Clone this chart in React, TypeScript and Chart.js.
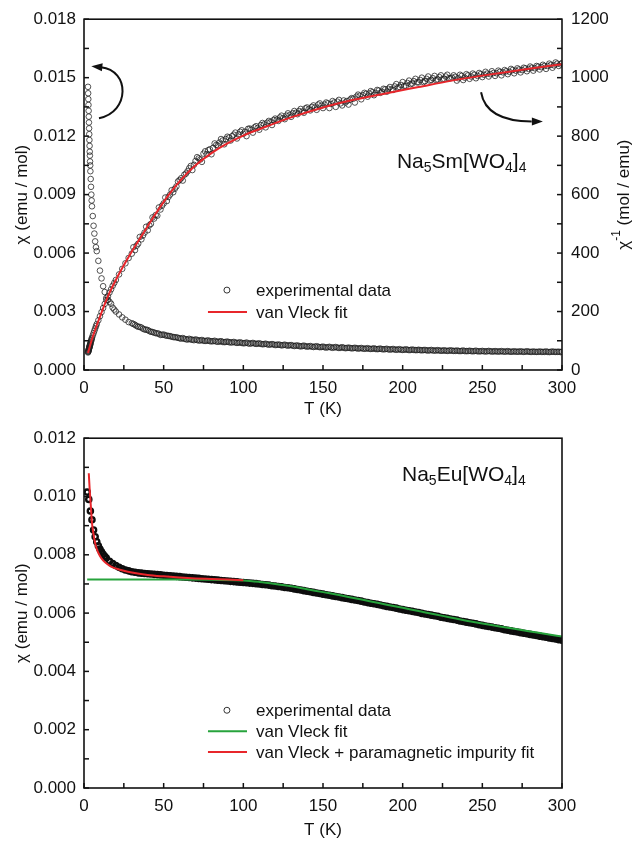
import React, { useEffect, useRef } from 'react';
import { Chart, registerables } from 'chart.js';

Chart.register(...registerables);

const FONT = '"Liberation Sans", Arial, Helvetica, sans-serif';
const INK = '#111111';

// ---------------- Top panel: Na5Sm[WO4]4 ----------------
const smT = [
  2.5, 2.6, 2.7, 2.8, 2.9, 3, 3.1, 3.2, 3.3, 3.4, 3.5, 3.6, 3.7, 3.8, 3.9, 4, 4.2, 4.4, 4.6, 4.8, 5, 5.5, 6, 6.5, 7, 7.5, 8,
  9, 10, 11, 12, 13, 14, 15, 16, 17, 18, 19, 20, 22, 24, 26, 28,
  30, 32, 34, 36, 38, 40, 42, 44, 46, 48, 50, 52, 54, 56, 58, 60, 62, 64, 66, 68, 70, 72, 74, 76, 78, 80, 82, 84, 86, 88,
  90, 92, 94, 96, 98, 100, 102, 104, 106, 108, 110, 112, 114, 116, 118, 120, 122, 124, 126, 128, 130, 132, 134, 136, 138,
  140, 142, 144, 146, 148, 150, 152, 154, 156, 158, 160, 162, 164, 166, 168, 170, 172, 174, 176, 178, 180, 182, 184, 186,
  188, 190, 192, 194, 196, 198, 200, 202, 204, 206, 208, 210, 212, 214, 216, 218, 220, 222, 224, 226, 228, 230, 232, 234,
  236, 238, 240, 242, 244, 246, 248, 250, 252, 254, 256, 258, 260, 262, 264, 266, 268, 270, 272, 274, 276, 278, 280, 282,
  284, 286, 288, 290, 292, 294, 296, 298, 300,
];
const smChi = [
  0.01453, 0.0142, 0.0139, 0.0136, 0.0133, 0.013, 0.0127, 0.0124, 0.0121, 0.0118, 0.0115, 0.0112, 0.011, 0.0107, 0.0105, 0.0102,
  0.0098, 0.0094, 0.009, 0.0087, 0.0084, 0.0079, 0.0074, 0.007, 0.0066, 0.0063, 0.0061,
  0.0056, 0.0051, 0.0047, 0.0043, 0.004, 0.0037, 0.0036, 0.0035, 0.0034, 0.0032, 0.0031, 0.003,
  0.00285, 0.0027, 0.00258, 0.00246,
  0.0024, 0.00232, 0.00222, 0.00218, 0.00208, 0.00205, 0.00196, 0.00192, 0.00188, 0.0018,
  0.00182, 0.00176, 0.00174, 0.00169, 0.00168, 0.00163, 0.00164, 0.00158, 0.0016, 0.00155,
  0.00157, 0.00151, 0.00154, 0.00149, 0.00152, 0.00147, 0.0015, 0.00145, 0.00148, 0.00143,
  0.00146, 0.00141, 0.00144, 0.00139, 0.00142, 0.00137, 0.00141, 0.00135, 0.00139, 0.00134,
  0.00137, 0.00132, 0.00135, 0.0013, 0.00133, 0.00128, 0.00131, 0.00126, 0.0013, 0.00125,
  0.00128, 0.00123, 0.00126, 0.00121, 0.00125, 0.0012, 0.00123, 0.00118, 0.00122, 0.00117,
  0.0012, 0.00115, 0.00119, 0.00114, 0.00118, 0.00113, 0.00117, 0.00112, 0.00115, 0.00111,
  0.00114, 0.0011, 0.00113, 0.00109, 0.00112, 0.00108, 0.00111, 0.00107, 0.0011, 0.00106,
  0.00109, 0.00105, 0.00108, 0.00104, 0.00107, 0.00103, 0.00106, 0.00102, 0.00105, 0.00102,
  0.00104, 0.00101, 0.00103, 0.001, 0.00103, 0.001, 0.00102, 0.00099, 0.00101, 0.00098,
  0.00101, 0.00098, 0.001, 0.00097, 0.001, 0.00097, 0.00099, 0.00096, 0.00099, 0.00096,
  0.00098, 0.00095, 0.00098, 0.00095, 0.00097, 0.00095, 0.00097, 0.00094, 0.00097, 0.00094,
  0.00096, 0.00094, 0.00096, 0.00093, 0.00096, 0.00093, 0.00095, 0.00093, 0.00095, 0.00093,
  0.00095, 0.00092, 0.00095, 0.00093, 0.00094, 0.00093,
];
const smChiInv = [
  60, 62, 64, 66, 68, 70, 72, 74, 76, 78, 80, 82, 84, 86, 88, 90,
  94, 98, 102, 106, 110, 118, 126, 134, 142, 150, 157,
  170, 184, 198, 212, 226, 240, 252, 265, 276, 288, 298, 308,
  327, 346, 365, 383,
  398, 410, 432, 447, 470, 478, 500, 518, 528, 549,
  570, 578, 600, 608, 628, 650, 648, 672, 690, 684,
  715, 724, 712, 748, 752, 738, 775, 768, 790, 772,
  798, 785, 805, 792, 815, 808, 800, 826, 812, 834,
  822, 845, 830, 852, 838, 860, 852, 870, 858, 878,
  866, 886, 875, 893, 880, 898, 888, 905, 890, 912,
  896, 915, 896, 920, 900, 924, 905, 915, 908, 930,
  915, 942, 926, 948, 935, 954, 940, 958, 948, 962,
  952, 968, 958, 978, 968, 985, 972, 990, 980, 996,
  984, 1000, 988, 1004, 992, 1006, 994, 1008, 996, 1010,
  998, 1008, 990, 1010, 992, 1012, 996, 1014, 998, 1016,
  1002, 1020, 1004, 1022, 1006, 1024, 1008, 1026, 1012, 1030,
  1015, 1032, 1018, 1034, 1022, 1038, 1024, 1040, 1028, 1044,
  1030, 1048, 1034, 1052, 1040, 1050,
];
// second sweep of readings at odd temperatures
const smT2 = [
  31, 33, 35, 37, 39, 41, 43, 45, 47, 49, 51, 53, 55, 57, 59, 61, 63, 65, 67, 69, 71, 73, 75, 77, 79, 81, 83, 85, 87, 89,
  91, 93, 95, 97, 99, 101, 103, 105, 107, 109, 111, 113, 115, 117, 119, 121, 123, 125, 127, 129, 131, 133, 135, 137, 139,
  141, 143, 145, 147, 149, 151, 153, 155, 157, 159, 161, 163, 165, 167, 169, 171, 173, 175, 177, 179, 181, 183, 185, 187,
  189, 191, 193, 195, 197, 199, 201, 203, 205, 207, 209, 211, 213, 215, 217, 219, 221, 223, 225, 227, 229, 231, 233, 235,
  237, 239, 241, 243, 245, 247, 249, 251, 253, 255, 257, 259, 261, 263, 265, 267, 269, 271, 273, 275, 277, 279, 281, 283,
  285, 287, 289, 291, 293, 295, 297, 299,
];
const smChi2 = [
  0.00236, 0.00226, 0.00221, 0.00212, 0.00207, 0.002, 0.00195, 0.00189, 0.00186, 0.00181,
  0.00178, 0.00175, 0.00171, 0.00168, 0.00165, 0.00161, 0.0016, 0.00156, 0.00157, 0.00153,
  0.00154, 0.00152, 0.0015, 0.0015, 0.00148, 0.00148, 0.00146, 0.00146, 0.00144, 0.00144,
  0.00143, 0.00142, 0.00141, 0.0014, 0.00139, 0.00138, 0.00137, 0.00137, 0.00136, 0.00135,
  0.00134, 0.00133, 0.00132, 0.00131, 0.00131, 0.00129, 0.00129, 0.00128, 0.00127, 0.00127,
  0.00125, 0.00125, 0.00123, 0.00123, 0.00122, 0.00121, 0.0012, 0.0012, 0.00119, 0.00118,
  0.00117, 0.00117, 0.00116, 0.00116, 0.00115, 0.00114, 0.00114, 0.00113, 0.00113, 0.00112,
  0.00112, 0.00111, 0.0011, 0.0011, 0.00109, 0.00109, 0.00108, 0.00108, 0.00107, 0.00107,
  0.00106, 0.00106, 0.00105, 0.00105, 0.00104, 0.00104, 0.00104, 0.00103, 0.00103, 0.00102,
  0.00102, 0.00102, 0.00101, 0.00101, 0.001, 0.001, 0.001, 0.00099, 0.00099, 0.00099,
  0.00099, 0.00098, 0.00098, 0.00098, 0.00097, 0.00097, 0.00097, 0.00097, 0.00096, 0.00096,
  0.00096, 0.00096, 0.00096, 0.00095, 0.00095, 0.00095, 0.00095, 0.00095, 0.00094, 0.00094,
  0.00094, 0.00094, 0.00094, 0.00094, 0.00094, 0.00093, 0.00093, 0.00093, 0.00093, 0.00093,
  0.00093, 0.00093, 0.00093, 0.00093, 0.00092,
];
const smChiInv2 = [
  420, 425, 455, 460, 490, 495, 522, 530, 556, 562,
  590, 592, 615, 620, 645, 656, 668, 680, 698, 702,
  728, 720, 740, 738, 755, 760, 770, 778, 785, 790,
  795, 800, 812, 806, 820, 815, 825, 822, 830, 828,
  838, 840, 846, 848, 855, 856, 864, 862, 870, 872,
  878, 880, 886, 884, 895, 892, 900, 898, 908, 904,
  908, 912, 910, 915, 918, 912, 922, 920, 925, 928,
  935, 938, 940, 945, 946, 950, 948, 956, 952, 960,
  962, 960, 970, 966, 975, 972, 982, 978, 988, 984,
  992, 985, 996, 990, 998, 992, 1002, 995, 1004, 998,
  1000, 1003, 998, 1006, 1000, 1008, 1004, 1010, 1006, 1012,
  1010, 1014, 1012, 1016, 1015, 1020, 1018, 1022, 1020, 1026,
  1024, 1028, 1026, 1032, 1030, 1034, 1032, 1038, 1036, 1040,
  1040, 1044, 1042, 1048, 1046,
];
const smFitT = [2.5, 5, 10, 15, 20, 25, 30, 40, 50, 60, 70, 80, 90, 100, 115, 130, 150, 170, 190, 210, 230, 250, 275, 300];
const smFitInv = [58, 105, 182, 252, 308, 358, 405, 492, 575, 645, 700, 742, 775, 802, 834, 864, 898, 925, 947, 968, 989, 1007, 1027, 1046];

// ---------------- Bottom panel: Na5Eu[WO4]4 ----------------
const euT = [
  2, 3, 4, 5, 6, 7, 8, 9, 10, 11, 12, 13, 14,
  16, 18, 20, 22, 24, 26, 28, 30, 32, 34, 36, 38, 40, 42, 44, 46, 48, 50, 52, 54, 56, 58, 60, 62, 64, 66, 68, 70, 72, 74,
  76, 78, 80, 82, 84, 86, 88, 90, 92, 94, 96, 98, 100, 102, 104, 106, 108, 110, 112, 114, 116, 118, 120, 122, 124, 126,
  128, 130, 132, 134, 136, 138, 140, 142, 144, 146, 148, 150, 152, 154, 156, 158, 160, 162, 164, 166, 168, 170, 172, 174,
  176, 178, 180, 182, 184, 186, 188, 190, 192, 194, 196, 198, 200, 202, 204, 206, 208, 210, 212, 214, 216, 218, 220, 222,
  224, 226, 228, 230, 232, 234, 236, 238, 240, 242, 244, 246, 248, 250, 252, 254, 256, 258, 260, 262, 264, 266, 268, 270,
  272, 274, 276, 278, 280, 282, 284, 286, 288, 290, 292, 294, 296, 298, 300,
];
const euChi = [
  0.01015, 0.0099, 0.0095, 0.0092, 0.00885, 0.00862, 0.00845, 0.00831, 0.0082, 0.0081, 0.00802, 0.00795, 0.00789,
  0.00778, 0.0077, 0.00763, 0.00757, 0.00752, 0.00748, 0.00745, 0.00742, 0.0074, 0.00738,
  0.00737, 0.00736, 0.00735, 0.00734, 0.00733, 0.00732, 0.00731, 0.0073, 0.00729, 0.00728,
  0.00727, 0.00726, 0.00725, 0.00724, 0.00723, 0.00722, 0.00721, 0.0072, 0.00719, 0.00718,
  0.00717, 0.00716, 0.00715, 0.00714, 0.00713, 0.00712, 0.00711, 0.0071, 0.00709, 0.00708,
  0.00707, 0.00706, 0.00705, 0.00704, 0.00703, 0.00702, 0.00701, 0.007, 0.00698, 0.00697,
  0.00696, 0.00694, 0.00693, 0.00691, 0.0069, 0.00688, 0.00687, 0.00685, 0.00683, 0.00681,
  0.00679, 0.00677, 0.00675, 0.00673, 0.00671, 0.00669, 0.00667, 0.00665, 0.00663, 0.00661,
  0.00659, 0.00657, 0.00655, 0.00653, 0.00651, 0.00649, 0.00647, 0.00645, 0.00643, 0.00641,
  0.00638, 0.00636, 0.00634, 0.00632, 0.0063, 0.00628, 0.00625, 0.00623, 0.00621, 0.00619,
  0.00617, 0.00614, 0.00612, 0.0061, 0.00608, 0.00606, 0.00604, 0.00602, 0.00599, 0.00597,
  0.00595, 0.00593, 0.00591, 0.00589, 0.00586, 0.00584, 0.00582, 0.0058, 0.00578, 0.00576,
  0.00573, 0.00571, 0.00569, 0.00567, 0.00565, 0.00563, 0.0056, 0.00558, 0.00556, 0.00554,
  0.00552, 0.0055, 0.00548, 0.00546, 0.00543, 0.00541, 0.00539, 0.00537, 0.00535, 0.00533,
  0.00531, 0.00529, 0.00527, 0.00525, 0.00523, 0.00521, 0.00519, 0.00517, 0.00515, 0.00513,
  0.00511, 0.00509, 0.00507,
];
const euVVT = [2, 20, 40, 60, 80, 100, 110, 120, 130, 140, 150, 160, 170, 180, 190, 200, 210, 220, 230, 240, 250, 260, 270, 280, 290, 300];
const euVV = [
  0.00715, 0.00715, 0.00715, 0.00715, 0.00714, 0.00712, 0.00707, 0.007, 0.00692, 0.00682, 0.00672, 0.00662, 0.00651,
  0.0064, 0.00629, 0.00618, 0.00607, 0.00596, 0.00585, 0.00574, 0.00564, 0.00555, 0.00546, 0.00537, 0.00528, 0.0052,
];
const euImpT = [3, 3.5, 4, 4.5, 5, 6, 7, 8, 10, 12, 14, 16, 18, 20, 25, 30, 40, 50, 60, 70, 80, 90, 100];
const euImp = [
  0.0108, 0.0103, 0.0099, 0.0095, 0.0091, 0.0087, 0.0084, 0.0082, 0.00796, 0.00781, 0.00771, 0.00763, 0.00757, 0.00753,
  0.00745, 0.00739, 0.00731, 0.00726, 0.00722, 0.00719, 0.00717, 0.00715, 0.00713,
];

const RED = '#e8262b';
const GREEN = '#27a33c';

const pts = (xs: number[], ys: number[]) => xs.map((x, i) => ({ x, y: ys[i] }));

function font(size: number) {
  return `${size}px ${FONT}`;
}

function drawTicks(chart: any, id: string, side: 'bottom' | 'left' | 'right', len = 5) {
  const s = chart.scales[id];
  const a = chart.chartArea;
  const ctx = chart.ctx;
  ctx.save();
  ctx.strokeStyle = INK;
  ctx.lineWidth = 1.5;
  s.ticks.forEach((t: any) => {
    const p = s.getPixelForValue(t.value);
    ctx.beginPath();
    if (side === 'bottom') {
      ctx.moveTo(p, a.bottom);
      ctx.lineTo(p, a.bottom - len);
    } else if (side === 'left') {
      ctx.moveTo(a.left, p);
      ctx.lineTo(a.left + len, p);
    } else {
      ctx.moveTo(a.right, p);
      ctx.lineTo(a.right - len, p);
    }
    ctx.stroke();
  });
  ctx.restore();
}

function drawFrame(chart: any) {
  const a = chart.chartArea;
  const ctx = chart.ctx;
  ctx.save();
  ctx.strokeStyle = INK;
  ctx.lineWidth = 1.6;
  ctx.strokeRect(a.left, a.top, a.right - a.left, a.bottom - a.top);
  ctx.restore();
}

function drawFormula(ctx: any, x: number, y: number, metal: string) {
  const parts: [string, boolean][] = [
    ['Na', false], ['5', true], [metal + '[WO', false], ['4', true], [']', false], ['4', true],
  ];
  let cx = x;
  ctx.save();
  ctx.fillStyle = INK;
  ctx.textBaseline = 'alphabetic';
  ctx.textAlign = 'left';
  for (const [txt, sub] of parts) {
    ctx.font = font(sub ? 14 : 21);
    ctx.fillText(txt, cx, sub ? y + 4 : y);
    cx += ctx.measureText(txt).width;
  }
  ctx.restore();
}

function drawLegend(chart: any, yId: string, items: { kind: 'circle' | 'line'; color: string; label: string; y: number }[]) {
  const ctx = chart.ctx;
  const xs = chart.scales.x;
  const ys = chart.scales[yId];
  const x1 = xs.getPixelForValue(77.8);
  const x2 = xs.getPixelForValue(102.3);
  const xm = xs.getPixelForValue(89.7);
  const xt = xs.getPixelForValue(107.9);
  ctx.save();
  items.forEach((it) => {
    const py = ys.getPixelForValue(it.y);
    if (it.kind === 'circle') {
      ctx.strokeStyle = '#333';
      ctx.lineWidth = 1;
      ctx.beginPath();
      ctx.arc(xm, py, 3, 0, Math.PI * 2);
      ctx.stroke();
    } else {
      ctx.strokeStyle = it.color;
      ctx.lineWidth = 2;
      ctx.beginPath();
      ctx.moveTo(x1, py);
      ctx.lineTo(x2, py);
      ctx.stroke();
    }
    ctx.fillStyle = INK;
    ctx.font = font(17);
    ctx.textBaseline = 'middle';
    ctx.textAlign = 'left';
    ctx.fillText(it.label, xt, py + 1);
  });
  ctx.restore();
}

function arrowHead(ctx: any, fromX: number, fromY: number, tipX: number, tipY: number) {
  const ang = Math.atan2(tipY - fromY, tipX - fromX);
  const L = 11;
  const W = 4;
  const bx = tipX - L * Math.cos(ang);
  const by = tipY - L * Math.sin(ang);
  ctx.beginPath();
  ctx.moveTo(tipX, tipY);
  ctx.lineTo(bx + W * Math.sin(ang), by - W * Math.cos(ang));
  ctx.lineTo(bx - W * Math.sin(ang), by + W * Math.cos(ang));
  ctx.closePath();
  ctx.fill();
}

const topDecor = {
  id: 'topDecor',
  afterDraw(chart: any) {
    const ctx = chart.ctx;
    const X = chart.scales.x;
    const Y = chart.scales.y;
    const Y1 = chart.scales.y1;
    drawFrame(chart);
    drawTicks(chart, 'x', 'bottom');
    drawTicks(chart, 'y', 'left');
    drawTicks(chart, 'y1', 'right');

    // right-axis title, reading bottom to top
    const a = chart.chartArea;
    ctx.save();
    ctx.fillStyle = INK;
    ctx.translate(chart.width - 13, (a.top + a.bottom) / 2);
    ctx.rotate(-Math.PI / 2);
    ctx.textBaseline = 'middle';
    ctx.textAlign = 'left';
    ctx.font = font(17);
    const w1 = ctx.measureText('\u03c7').width;
    const w3 = ctx.measureText(' (mol / emu)').width;
    ctx.font = font(12);
    const w2 = ctx.measureText('-1').width;
    let cx = -(w1 + w2 + w3) / 2;
    ctx.font = font(17);
    ctx.fillText('\u03c7', cx, 0);
    cx += w1;
    ctx.font = font(12);
    ctx.fillText('-1', cx, -7);
    cx += w2;
    ctx.font = font(17);
    ctx.fillText(' (mol / emu)', cx, 0);
    ctx.restore();

    drawFormula(ctx, X.getPixelForValue(196.4), Y.getPixelForValue(0.01036), 'Sm');

    drawLegend(chart, 'y', [
      { kind: 'circle', color: '#333', label: 'experimental data', y: 0.0041 },
      { kind: 'line', color: RED, label: 'van Vleck fit', y: 0.002974 },
    ]);

    // curved arrows
    ctx.save();
    ctx.strokeStyle = INK;
    ctx.fillStyle = INK;
    ctx.lineWidth = 2;
    const s = [X.getPixelForValue(9.4), Y.getPixelForValue(0.01292)];
    const c1 = [X.getPixelForValue(28.9), Y.getPixelForValue(0.01323)];
    const c2 = [X.getPixelForValue(28.9), Y.getPixelForValue(0.01538)];
    const e = [X.getPixelForValue(10.7), Y.getPixelForValue(0.01554)];
    const tip = [X.getPixelForValue(4.6), Y.getPixelForValue(0.01559)];
    ctx.beginPath();
    ctx.moveTo(s[0], s[1]);
    ctx.bezierCurveTo(c1[0], c1[1], c2[0], c2[1], e[0], e[1]);
    ctx.stroke();
    arrowHead(ctx, e[0], e[1], tip[0], tip[1]);

    const rs = [X.getPixelForValue(249.2), Y1.getPixelForValue(950)];
    const rc = [X.getPixelForValue(252.3), Y1.getPixelForValue(851)];
    const re = [X.getPixelForValue(281), Y1.getPixelForValue(850)];
    const rt = [X.getPixelForValue(288), Y1.getPixelForValue(850)];
    ctx.beginPath();
    ctx.moveTo(rs[0], rs[1]);
    ctx.quadraticCurveTo(rc[0], rc[1], re[0], re[1]);
    ctx.stroke();
    arrowHead(ctx, re[0] - 4, re[1], rt[0], rt[1]);
    ctx.restore();
  },
};

const bottomDecor = {
  id: 'bottomDecor',
  afterDraw(chart: any) {
    const ctx = chart.ctx;
    drawFrame(chart);
    drawTicks(chart, 'x', 'bottom');
    drawTicks(chart, 'y', 'left');
    drawFormula(ctx, chart.scales.x.getPixelForValue(199.6), chart.scales.y.getPixelForValue(0.01053), 'Eu');
    drawLegend(chart, 'y', [
      { kind: 'circle', color: '#333', label: 'experimental data', y: 0.002667 },
      { kind: 'line', color: GREEN, label: 'van Vleck fit', y: 0.001949 },
      { kind: 'line', color: RED, label: 'van Vleck + paramagnetic impurity fit', y: 0.001231 },
    ]);
  },
};

function xAxis(height: number) {
  return {
    type: 'linear',
    position: 'bottom',
    min: 0,
    max: 300,
    grid: { display: false, drawTicks: false },
    border: { display: false },
    ticks: {
      stepSize: 25,
      autoSkip: false,
      maxRotation: 0,
      padding: 8,
      color: INK,
      font: { size: 17, family: FONT },
      callback: (v: number) => (Math.round(v / 25) % 2 === 0 ? String(v) : ''),
    },
    title: { display: true, text: 'T (K)', color: INK, font: { size: 17, family: FONT }, padding: { top: 0, bottom: 0 } },
    afterFit: (s: any) => {
      s.height = height;
    },
  };
}

function yAxis(max: number, step: number, labelEvery: number) {
  return {
    type: 'linear',
    position: 'left',
    min: 0,
    max,
    grid: { display: false, drawTicks: false },
    border: { display: false },
    ticks: {
      stepSize: step,
      autoSkip: false,
      padding: 8,
      color: INK,
      font: { size: 17, family: FONT },
      callback: (v: number) => (Math.round(v / step) % labelEvery === 0 ? v.toFixed(3) : ''),
    },
    title: { display: true, text: '\u03c7 (emu / mol)', color: INK, font: { size: 17, family: FONT }, padding: { top: 12, bottom: 0 } },
    afterFit: (s: any) => {
      s.width = 84;
    },
  };
}

const smMarker = {
  pointRadius: 2.8,
  pointBorderWidth: 0.9,
  pointBorderColor: 'rgba(30,30,30,0.85)',
  pointBackgroundColor: 'rgba(255,255,255,0)',
};

function topConfig(): any {
  return {
    type: 'scatter',
    data: {
      datasets: [
        {
          label: 'van Vleck fit',
          data: pts(smFitT, smFitInv),
          yAxisID: 'y1',
          showLine: true,
          borderColor: RED,
          borderWidth: 2,
          pointRadius: 0,
          cubicInterpolationMode: 'monotone',
        },
        { label: 'chi-1 (a)', data: pts(smT, smChiInv), yAxisID: 'y1', ...smMarker },
        { label: 'chi-1 (b)', data: pts(smT2, smChiInv2), yAxisID: 'y1', ...smMarker },
        { label: 'chi (a)', data: pts(smT, smChi), yAxisID: 'y', ...smMarker },
        { label: 'chi (b)', data: pts(smT2, smChi2), yAxisID: 'y', ...smMarker },
      ],
    },
    options: {
      responsive: false,
      animation: false,
      layout: { padding: { top: 19, left: 0, right: 0, bottom: 0 } },
      plugins: { legend: { display: false }, tooltip: { enabled: false } },
      scales: {
        x: xAxis(50),
        y: yAxis(0.018, 0.0015, 2),
        y1: {
          type: 'linear',
          position: 'right',
          min: 0,
          max: 1200,
          grid: { display: false, drawTicks: false },
          border: { display: false },
          ticks: {
            stepSize: 100,
            autoSkip: false,
            padding: 9,
            color: INK,
            font: { size: 17, family: FONT },
            callback: (v: number) => (Math.round(v / 100) % 2 === 0 ? String(v) : ''),
          },
          title: { display: false },
          afterFit: (s: any) => {
            s.width = 75;
          },
        },
      },
    },
    plugins: [topDecor],
  };
}

function bottomConfig(): any {
  return {
    type: 'scatter',
    data: {
      datasets: [
        {
          label: 'van Vleck + paramagnetic impurity fit',
          data: pts(euImpT, euImp),
          showLine: true,
          borderColor: RED,
          borderWidth: 2,
          pointRadius: 0,
          cubicInterpolationMode: 'monotone',
        },
        {
          label: 'van Vleck fit',
          data: pts(euVVT, euVV),
          showLine: true,
          borderColor: GREEN,
          borderWidth: 2,
          pointRadius: 0,
          cubicInterpolationMode: 'monotone',
        },
        {
          label: 'experimental data',
          data: pts(euT, euChi),
          pointRadius: 2.6,
          pointBorderWidth: 2.4,
          pointBorderColor: '#0d0d0d',
          pointBackgroundColor: 'rgba(255,255,255,0)',
        },
      ],
    },
    options: {
      responsive: false,
      animation: false,
      layout: { padding: { top: 17, left: 0, right: 75, bottom: 0 } },
      plugins: { legend: { display: false }, tooltip: { enabled: false } },
      scales: {
        x: xAxis(53),
        y: yAxis(0.012, 0.001, 2),
      },
    },
    plugins: [bottomDecor],
  };
}

function Panel({ make, height }: { make: () => any; height: number }) {
  const ref = useRef<HTMLCanvasElement>(null);
  useEffect(() => {
    const chart = new Chart(ref.current as HTMLCanvasElement, make());
    return () => chart.destroy();
  }, []);
  return <canvas ref={ref} width={637} height={height} style={{ display: 'block', width: 637, height }} />;
}

export default function App() {
  useEffect(() => {
    document.body.style.margin = '0';
  }, []);
  return (
    <div style={{ width: 637, height: 841, background: '#fff', overflow: 'hidden' }}>
      <Panel make={topConfig} height={420} />
      <Panel make={bottomConfig} height={421} />
    </div>
  );
}
